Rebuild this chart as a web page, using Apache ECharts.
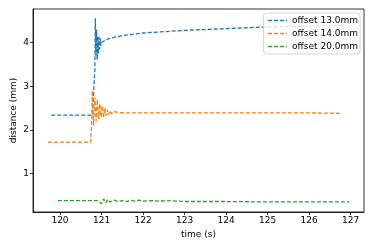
<!DOCTYPE html>
<html><head><meta charset="utf-8">
<script src="https://cdn.jsdelivr.net/npm/echarts@6/dist/echarts.min.js"></script>
<style>html,body{margin:0;padding:0;background:#fff}#c{width:374px;height:249px}</style>
</head><body><div id="c"></div>
<script>
const seriesNames = ['offset 13.0mm', 'offset 14.0mm', 'offset 20.0mm'];
const colors = ['#1f77b4', '#ff7f0e', '#2ca02c'];
const xTicks = [120, 121, 122, 123, 124, 125, 126, 127];
const yTicks = [1, 2, 3, 4];

const t13 = [119.79, 120.0, 120.5, 120.78, 120.82, 120.84, 120.85, 120.865, 120.88, 120.895, 120.91, 120.925, 120.94, 120.955, 120.97, 120.985, 121.0, 121.05, 121.1, 121.2, 121.35, 121.5, 121.75, 122.0, 122.5, 123.0, 123.5, 124.0, 124.5, 125.0, 125.5, 126.0, 126.5, 126.82];
const v13 = [2.34, 2.34, 2.34, 2.34, 2.36, 3.4, 4.56, 3.7, 4.3, 3.6, 4.15, 3.75, 4.12, 3.85, 4.1, 3.92, 4.0, 4.03, 4.06, 4.1, 4.13, 4.16, 4.19, 4.22, 4.25, 4.28, 4.30, 4.32, 4.34, 4.36, 4.37, 4.38, 4.39, 4.39];

const t14 = [119.71, 120.0, 120.5, 120.74, 120.76, 120.78, 120.81, 120.84, 120.87, 120.90, 120.93, 120.96, 120.99, 121.02, 121.05, 121.08, 121.11, 121.14, 121.17, 121.2, 121.24, 121.28, 121.32, 121.4, 121.6, 122, 123, 124, 125, 126, 126.76];
const v14 = [1.72, 1.72, 1.72, 1.72, 2.1, 2.9, 2.1, 2.75, 2.2, 2.7, 2.25, 2.6, 2.3, 2.55, 2.3, 2.5, 2.33, 2.46, 2.35, 2.44, 2.37, 2.42, 2.38, 2.4, 2.39, 2.39, 2.39, 2.39, 2.39, 2.39, 2.38];

const t20 = [119.95, 120.5, 120.9, 121.0, 121.05, 121.1, 121.15, 121.2, 121.3, 121.4, 121.5, 121.6, 121.7, 121.8, 121.9, 122.0, 122.2, 122.4, 122.6, 122.8, 123, 124, 125, 126, 126.97];
const v20 = [0.38, 0.38, 0.38, 0.31, 0.42, 0.33, 0.41, 0.35, 0.39, 0.36, 0.38, 0.36, 0.39, 0.37, 0.39, 0.37, 0.38, 0.37, 0.38, 0.37, 0.36, 0.36, 0.35, 0.35, 0.35];

const times = [t13, t14, t20];
const vals = [v13, v14, v20];

const font = 'DejaVu Sans';
const chart = echarts.init(document.getElementById('c'), null, {renderer: 'canvas'});
chart.setOption({
  animation: false,
  backgroundColor: '#fff',
  textStyle: {fontFamily: font},
  grid: {left: 33, right: 10, top: 9, bottom: 37, show: true, borderColor: '#000', borderWidth: 0.8, containLabel: false, outerBoundsMode: 'none'},
  legend: {
    orient: 'vertical', right: 14, top: 13,
    backgroundColor: 'rgba(255,255,255,0.8)', borderColor: '#ccc', borderWidth: 0.8, borderRadius: 3,
    padding: [3, 2, 3, 4], itemGap: 4, itemWidth: 19, itemHeight: 8,
    itemStyle: {opacity: 0},
    lineStyle: {type: [4, 2], width: 1.3},
    textStyle: {fontFamily: font, fontSize: 9, color: '#000'},
    data: seriesNames
  },
  xAxis: {
    type: 'value', min: 119.35, max: 127.32,
    name: 'time (s)', nameLocation: 'middle', nameGap: 18, nameMoveOverlap: false,
    nameTextStyle: {fontFamily: font, fontSize: 9, color: '#000'},
    axisLine: {show: true, onZero: false, lineStyle: {color: '#000', width: 0.8}},
    axisTick: {show: true, length: 3, customValues: xTicks, lineStyle: {color: '#000', width: 0.8}},
    axisLabel: {customValues: xTicks, fontFamily: font, fontSize: 9, color: '#000', margin: 4},
    splitLine: {show: false}
  },
  yAxis: {
    type: 'value', min: 0.12, max: 4.77,
    name: 'distance (mm)', nameLocation: 'middle', nameGap: 15, nameRotate: 90, nameMoveOverlap: false,
    nameTextStyle: {fontFamily: font, fontSize: 9, color: '#000'},
    axisLine: {show: true, onZero: false, lineStyle: {color: '#000', width: 0.8}},
    axisTick: {show: true, length: 3, customValues: yTicks, lineStyle: {color: '#000', width: 0.8}},
    axisLabel: {customValues: yTicks, fontFamily: font, fontSize: 9, color: '#000', margin: 4},
    splitLine: {show: false}
  },
  series: seriesNames.map((n, i) => ({
    name: n, type: 'line', showSymbol: false, symbol: 'none',
    color: colors[i],
    lineStyle: {color: colors[i], width: 1.3, type: [4, 2]},
    data: times[i].map((t, j) => [t, vals[i][j]])
  }))
});
</script></body></html>
